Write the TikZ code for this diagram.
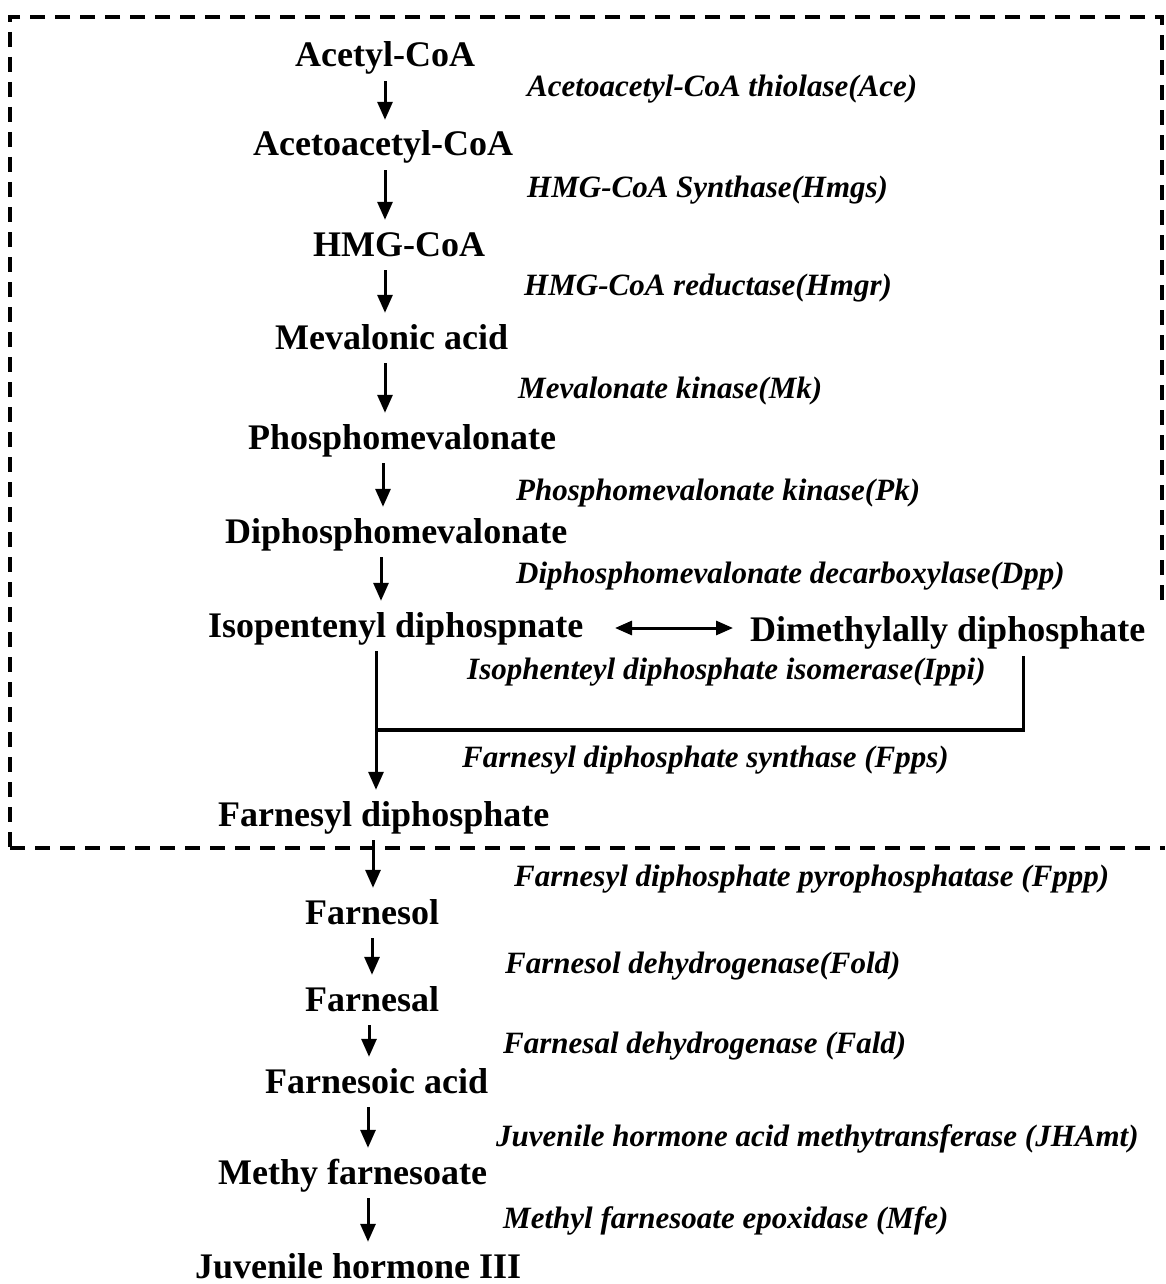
\documentclass[tikz,border=0pt]{standalone}
\usepackage{fontspec}
\setmainfont{Liberation Serif}
\usetikzlibrary{arrows.meta}
\begin{document}
\begin{tikzpicture}[x=1pt,y=-1pt,
  cpd/.style={font=\bfseries\fontsize{36}{40}\selectfont, inner sep=0pt, text height=26pt, text depth=8pt, anchor=base west},
  enz/.style={font=\bfseries\itshape\fontsize{31}{36}\selectfont, inner sep=0pt, anchor=base west},
  arr/.style={line width=3pt, -{Triangle[length=18pt,width=15pt]}, shorten <=6pt, shorten >=10pt},
  dbl/.style={line width=3pt, {Triangle[length=17pt,width=14pt]}-{Triangle[length=17pt,width=14pt]}},
  plain/.style={line width=3pt},
  frame/.style={line width=3.5pt, dash pattern=on 15pt off 10pt}]
\useasboundingbox (0,0) rectangle (1165,1284);

% dashed frame
\draw[frame] (1162,600) -- (1162,17) -- (10,17) -- (10,848);
\draw[frame] (10,848) -- (1165,848);

% compounds
\node[cpd] (n1)  at (295,67)   {Acetyl-CoA};
\node[cpd] (n2)  at (253,156)  {Acetoacetyl-CoA};
\node[cpd] (n3)  at (313,256)  {HMG-CoA};
\node[cpd] (n4)  at (275,349)  {Mevalonic acid};
\node[cpd] (n5)  at (248,449)  {Phosphomevalonate};
\node[cpd] (n6)  at (225,543)  {Diphosphomevalonate};
\node[cpd] (n7)  at (208,637)  {Isopentenyl diphospnate};
\node[cpd] (n8)  at (750,641)  {Dimethylally diphosphate};
\node[cpd] (n9)  at (218,826)  {Farnesyl diphosphate};
\node[cpd] (n10) at (305,924)  {Farnesol};
\node[cpd] (n11) at (305,1011) {Farnesal};
\node[cpd] (n12) at (265,1093) {Farnesoic acid};
\node[cpd] (n13) at (218,1184) {Methy farnesoate};
\node[cpd] (n14) at (195,1278) {Juvenile hormone III};

% enzymes
\node[enz] (e1)  at (527,97)   {Acetoacetyl-CoA thiolase(Ace)};
\node[enz] (e2)  at (527,197)  {HMG-CoA Synthase(Hmgs)};
\node[enz] (e3)  at (524,295)  {HMG-CoA reductase(Hmgr)};
\node[enz] (e4)  at (518,398)  {Mevalonate kinase(Mk)};
\node[enz] (e5)  at (516,500)  {Phosphomevalonate kinase(Pk)};
\node[enz] (e6)  at (516,583)  {Diphosphomevalonate decarboxylase(Dpp)};
\node[enz] (e7)  at (467,679)  {Isophenteyl diphosphate isomerase(Ippi)};
\node[enz] (e8)  at (462,767)  {Farnesyl diphosphate synthase (Fpps)};
\node[enz] (e9)  at (514,886)  {Farnesyl diphosphate pyrophosphatase (Fppp)};
\node[enz] (e10) at (505,973)  {Farnesol dehydrogenase(Fold)};
\node[enz] (e11) at (503,1053) {Farnesal dehydrogenase (Fald)};
\node[enz] (e12) at (496,1146) {Juvenile hormone acid methytransferase (JHAmt)};
\node[enz] (e13) at (503,1228) {Methyl farnesoate epoxidase (Mfe)};

% arrow columns
\coordinate (c385) at (385,0);
\coordinate (c383) at (383,0);
\coordinate (c381) at (381,0);
\coordinate (c376) at (376,0);
\coordinate (c373) at (373,0);
\coordinate (c372) at (372,0);
\coordinate (c369) at (369,0);
\coordinate (c368) at (368,0);
\coordinate (c1023) at (1023,0);
\coordinate (junc) at (376,730);
\coordinate (dl) at (615,627);
\coordinate (dr) at (733,627);

\draw[arr] (n1.south -| c385) -- (n2.north -| c385);
\draw[arr] (n2.south -| c385) -- (n3.north -| c385);
\draw[arr] (n3.south -| c385) -- (n4.north -| c385);
\draw[arr] (n4.south -| c385) -- (n5.north -| c385);
\draw[arr] (n5.south -| c383) -- (n6.north -| c383);
\draw[arr] (n6.south -| c381) -- (n7.north -| c381);
\draw[dbl] (dl |- n7.east) -- (dr |- n7.east);
\draw[arr] (n7.south -| c376) -- (n9.north -| c376);
\draw[plain] ([yshift=-7pt]n8.south -| c1023) -- (c1023 |- junc);
\draw[line width=4pt] ([xshift=1.5pt]c1023 |- junc) -- (junc);
\draw[arr] (n9.south -| c373) -- (n10.north -| c373);
\draw[arr] (n10.south -| c372) -- (n11.north -| c372);
\draw[arr] (n11.south -| c369) -- (n12.north -| c369);
\draw[arr] (n12.south -| c368) -- (n13.north -| c368);
\draw[arr] (n13.south -| c368) -- (n14.north -| c368);
\end{tikzpicture}
\end{document}
